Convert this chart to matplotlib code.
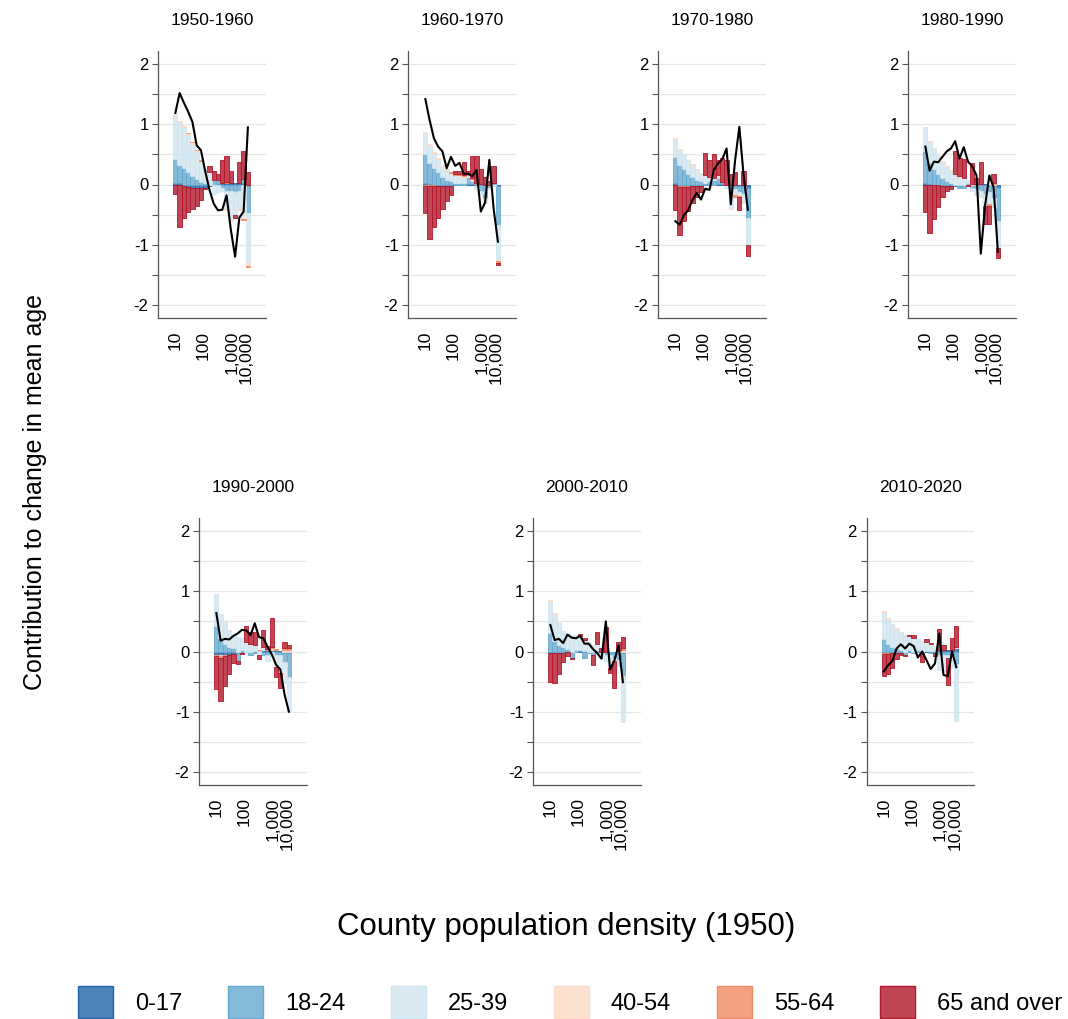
import numpy as np
import matplotlib.pyplot as plt
from matplotlib.patches import Patch
from matplotlib.colors import to_rgba

plt.rcParams['font.family'] = ['Liberation Sans', 'DejaVu Sans']

# ---------------------------------------------------------------------------
# data: contribution to change in mean age, by density bin (18 bins, low->high)
# one row per decade
# ---------------------------------------------------------------------------
periods = ['1950-1960', '1960-1970', '1970-1980', '1980-1990',
           '1990-2000', '2000-2010', '2010-2020']
age_groups = ['0-17', '18-24', '25-39', '40-54', '55-64', '65 and over']
tick_labels = ['10', '100', '1,000', '10,000']
tick_bins = [0.0, 6.6, 13.2, 16.7]   # where the density breaks fall on the bin axis

age_0_17 = [
    [0.02, 0.02, -0.02, -0.04, -0.06, -0.05, -0.06, -0.05, -0.02, 0.00, 0.01, 0.02, 0.03, 0.03, 0.03, 0.03, 0.02, -0.02],
    [0.03, 0.01, -0.01, -0.02, -0.03, -0.02, -0.02, -0.01, 0.00, 0.00, 0.01, 0.01, 0.01, 0.01, 0.00, 0.00, 0.00, -0.02],
    [0.02, -0.02, -0.03, -0.03, -0.03, -0.02, -0.02, -0.01, 0.00, 0.00, 0.01, 0.01, 0.00, -0.01, -0.02, -0.03, -0.03, -0.05],
    [0.02, 0.01, 0.00, -0.01, -0.02, -0.02, -0.03, -0.03, -0.02, -0.01, 0.00, 0.00, 0.01, 0.01, 0.01, 0.00, -0.02, -0.05],
    [-0.05, -0.06, -0.05, -0.05, -0.04, -0.03, -0.02, -0.01, 0.00, 0.01, 0.01, 0.02, 0.02, 0.03, 0.02, 0.01, -0.02, -0.02],
    [-0.02, -0.02, -0.02, -0.02, -0.01, -0.01, 0.00, 0.01, 0.01, 0.00, 0.00, 0.00, -0.01, -0.01, 0.00, -0.01, -0.02, -0.02],
    [-0.03, -0.03, -0.02, -0.02, -0.02, -0.01, -0.01, 0.00, 0.00, 0.00, 0.01, 0.01, 0.01, 0.02, 0.02, 0.02, 0.03, 0.05],
]
age_18_24 = [
    [0.40, 0.30, 0.27, 0.21, 0.14, 0.09, 0.04, 0.02, 0.00, 0.07, 0.06, -0.05, -0.10, -0.10, -0.12, -0.10, 0.07, -0.46],
    [0.47, 0.35, 0.27, 0.20, 0.13, 0.08, 0.05, 0.03, 0.02, 0.03, 0.12, 0.05, -0.02, -0.10, -0.22, -0.05, 0.03, -0.65],
    [0.43, 0.33, 0.25, 0.18, 0.12, 0.07, 0.05, 0.03, 0.05, 0.08, 0.10, 0.03, 0.00, -0.08, -0.05, -0.10, -0.12, -0.50],
    [0.53, 0.34, 0.25, 0.17, 0.10, 0.05, 0.02, 0.00, -0.03, -0.05, 0.02, -0.05, -0.08, -0.10, -0.15, -0.12, -0.20, -0.55],
    [0.42, 0.22, 0.13, 0.08, 0.05, -0.12, 0.02, 0.00, -0.05, -0.03, 0.00, -0.05, -0.05, 0.00, -0.05, -0.05, -0.15, -0.40],
    [0.30, 0.18, 0.10, 0.07, 0.04, -0.10, 0.03, 0.02, -0.10, -0.02, -0.05, 0.02, -0.02, -0.05, -0.05, -0.10, -0.12, -0.38],
    [0.20, 0.12, 0.08, 0.05, 0.03, -0.05, 0.02, -0.03, 0.02, -0.02, 0.00, -0.02, -0.03, -0.05, -0.05, -0.05, -0.08, -0.20],
]
age_25_39 = [
    [0.73, 0.72, 0.68, 0.62, 0.54, 0.47, 0.34, 0.23, 0.20, -0.15, -0.12, -0.05, -0.30, -0.48, -0.38, -0.30, -0.55, -0.83],
    [0.35, 0.29, 0.25, 0.22, 0.18, 0.16, 0.13, 0.12, 0.12, 0.10, 0.02, 0.03, -0.05, -0.05, -0.08, -0.03, -0.02, -0.58],
    [0.31, 0.25, 0.25, 0.22, 0.21, 0.18, 0.13, 0.12, 0.07, 0.02, 0.04, 0.00, -0.05, -0.30, -0.10, -0.05, -0.15, -0.45],
    [0.40, 0.35, 0.35, 0.30, 0.28, 0.25, 0.21, 0.17, 0.13, 0.10, 0.05, -0.05, -0.10, -0.10, -0.20, -0.20, -0.15, -0.45],
    [0.54, 0.41, 0.37, 0.28, 0.22, 0.24, 0.20, 0.15, 0.12, 0.10, -0.05, 0.05, -0.10, -0.08, -0.20, -0.30, -0.35, -0.58],
    [0.54, 0.45, 0.37, 0.27, 0.26, 0.28, 0.24, 0.23, 0.18, 0.15, 0.10, 0.10, -0.08, -0.10, -0.22, -0.05, -0.10, -0.78],
    [0.45, 0.42, 0.37, 0.33, 0.30, 0.28, 0.23, 0.22, 0.18, 0.18, 0.14, 0.11, 0.08, -0.25, -0.28, -0.05, -0.20, -0.95],
]
age_40_54 = [
    [0.02, 0.01, 0.02, 0.02, 0.02, 0.01, 0.01, 0.01, 0.01, 0.01, 0.00, 0.00, -0.02, -0.02, 0.00, -0.02, -0.02, -0.04],
    [0.03, 0.02, 0.02, 0.02, 0.01, 0.01, 0.01, 0.01, 0.01, 0.01, 0.01, 0.00, 0.00, 0.00, 0.00, 0.00, 0.00, -0.03],
    [0.02, 0.01, 0.01, 0.01, 0.01, 0.01, 0.01, 0.00, 0.00, 0.00, 0.00, 0.00, 0.00, -0.01, -0.01, -0.01, -0.01, -0.01],
    [0.01, 0.02, 0.01, 0.01, 0.01, 0.01, 0.01, 0.01, 0.01, 0.00, 0.01, 0.01, 0.00, 0.00, 0.00, -0.01, 0.01, 0.00],
    [-0.01, -0.02, -0.01, 0.00, 0.00, 0.00, 0.00, 0.00, 0.00, 0.00, 0.01, 0.00, 0.01, 0.02, 0.01, 0.00, 0.02, 0.02],
    [0.01, 0.01, 0.01, 0.00, 0.00, 0.00, 0.00, 0.00, 0.00, 0.00, 0.00, 0.00, 0.00, 0.00, 0.00, 0.00, 0.01, 0.03],
    [0.02, 0.01, 0.01, 0.01, 0.00, 0.00, 0.00, 0.00, 0.00, 0.00, 0.00, 0.00, 0.00, 0.00, 0.00, 0.00, 0.00, 0.02],
]
age_55_64 = [
    [0.00, 0.00, 0.00, 0.01, 0.01, 0.01, 0.01, 0.00, 0.00, 0.00, 0.00, 0.01, 0.01, 0.00, -0.01, 0.00, -0.02, -0.03],
    [-0.02, -0.03, -0.01, 0.00, 0.00, 0.00, 0.01, 0.01, 0.02, 0.01, 0.01, 0.01, 0.01, 0.00, 0.00, 0.00, 0.00, -0.02],
    [-0.01, -0.02, -0.01, -0.01, 0.00, 0.00, 0.00, 0.00, 0.00, 0.00, 0.00, 0.00, 0.00, 0.00, -0.02, -0.01, 0.00, 0.00],
    [0.00, 0.00, 0.00, 0.00, 0.00, 0.00, 0.00, 0.00, 0.00, 0.00, 0.00, 0.00, 0.00, 0.00, -0.01, -0.02, 0.02, 0.00],
    [-0.02, -0.02, -0.02, -0.01, 0.00, 0.00, 0.00, 0.00, 0.00, 0.00, 0.01, 0.00, 0.01, 0.02, 0.01, 0.00, 0.03, 0.03],
    [-0.01, -0.01, 0.00, 0.00, 0.00, 0.00, 0.00, 0.00, 0.00, 0.00, 0.00, 0.00, 0.00, 0.00, 0.00, 0.00, 0.01, 0.03],
    [-0.01, -0.01, 0.00, 0.00, 0.00, 0.00, 0.00, 0.00, 0.00, 0.00, 0.00, 0.00, 0.00, 0.00, 0.00, 0.00, 0.00, 0.01],
]
age_65_over = [
    [-0.15, -0.70, -0.53, -0.42, -0.35, -0.31, -0.20, -0.03, 0.10, 0.15, 0.10, 0.38, 0.44, 0.19, -0.05, 0.34, 0.47, 0.20],
    [-0.45, -0.88, -0.68, -0.53, -0.37, -0.26, -0.16, 0.06, 0.05, 0.22, 0.05, 0.38, 0.45, 0.25, 0.12, 0.05, 0.27, -0.04],
    [-0.42, -0.80, -0.56, -0.40, -0.27, -0.18, -0.10, 0.37, 0.28, 0.40, 0.25, 0.40, 0.40, 0.17, 0.20, -0.22, 0.22, -0.18],
    [-0.45, -0.80, -0.57, -0.36, -0.19, -0.08, -0.04, 0.38, 0.30, 0.33, -0.02, 0.35, 0.10, 0.37, -0.30, -0.30, 0.14, -0.17],
    [-0.55, -0.72, -0.50, -0.32, -0.15, -0.05, -0.02, 0.28, 0.20, 0.22, -0.08, 0.28, 0.05, 0.48, -0.17, -0.25, 0.10, 0.05],
    [-0.48, -0.50, -0.35, -0.15, -0.06, -0.01, 0.00, 0.03, 0.03, 0.00, -0.18, 0.20, 0.05, 0.40, -0.08, -0.45, 0.13, 0.18],
    [-0.37, -0.33, -0.25, -0.11, -0.04, -0.02, 0.03, 0.05, 0.00, -0.15, 0.06, 0.02, -0.05, 0.35, 0.08, -0.45, 0.20, 0.34],
]
# total change line
total_change = [
    [1.19, 1.52, 1.36, 1.21, 1.04, 0.65, 0.57, 0.22, -0.09, -0.32, -0.43, -0.42, -0.18, -0.75, -1.20, -0.55, -0.45, 0.95],
    [1.42, 1.07, 0.77, 0.63, 0.55, 0.27, 0.46, 0.31, 0.36, 0.18, 0.18, 0.14, 0.24, -0.45, -0.30, 0.41, -0.40, -0.95],
    [-0.61, -0.67, -0.51, -0.43, -0.26, -0.14, -0.25, -0.07, -0.09, 0.24, 0.35, 0.42, 0.60, -0.33, 0.40, 0.96, 0.15, -0.42],
    [0.63, 0.23, 0.38, 0.37, 0.46, 0.55, 0.60, 0.72, 0.43, 0.62, 0.38, 0.30, 0.15, -1.15, -0.35, 0.15, -0.05, -1.12],
    [0.64, 0.18, 0.21, 0.20, 0.26, 0.30, 0.36, 0.35, 0.27, 0.47, 0.24, 0.22, 0.08, -0.05, -0.22, -0.30, -0.72, -1.00],
    [0.44, 0.19, 0.21, 0.14, 0.28, 0.23, 0.22, 0.26, 0.13, 0.13, 0.04, -0.03, -0.12, 0.50, -0.30, -0.15, 0.10, -0.51],
    [-0.33, -0.23, -0.16, 0.05, 0.12, 0.05, 0.13, 0.09, -0.10, 0.00, -0.14, -0.29, -0.20, 0.30, -0.39, -0.41, 0.00, -0.26],
]

colors = ['#2166ac', '#67a9cf', '#d1e5f0', '#fddbc7', '#ef8a62', '#b2182b']
series = [age_0_17, age_18_24, age_25_39, age_40_54, age_55_64, age_65_over]

# ---------------------------------------------------------------------------
# layout (pixel boxes of the panels in a 1068 x 1019 figure)
# ---------------------------------------------------------------------------
W, H = 1068, 1019
fig = plt.figure(figsize=(W / 100, H / 100), dpi=100)

panel_left = [158.3, 408.3, 658.3, 908.3, 199.3, 533.3, 866.7]
panel_top = [51, 51, 51, 51, 518, 518, 518]
pw, ph = 107.5, 267

for k, period in enumerate(periods):
    ax = fig.add_axes([panel_left[k] / W, 1 - (panel_top[k] + ph) / H, pw / W, ph / H])
    x = np.arange(len(total_change[k]))
    pos_base = np.zeros(len(x))
    neg_base = np.zeros(len(x))
    for g, col in enumerate(colors):
        vals = np.array(series[g][k])
        fill = to_rgba(col, 0.8)
        pos = np.clip(vals, 0, None)
        neg = np.clip(vals, None, 0)
        m = pos > 0
        ax.bar(x[m], pos[m], bottom=pos_base[m], width=1, color=fill,
               edgecolor=col, linewidth=0.6, zorder=2)
        m = neg < 0
        ax.bar(x[m], neg[m], bottom=neg_base[m], width=1, color=fill,
               edgecolor=col, linewidth=0.6, zorder=2)
        pos_base += pos
        neg_base += neg
    ax.plot(x, total_change[k], color='black', lw=1.5, zorder=3)

    ax.set_xlim(-4.0, 21.2)
    ax.set_ylim(-2.22, 2.22)
    ax.set_yticks([-2, -1, 0, 1, 2])
    ax.set_yticklabels(['-2', '-1', '0', '1', '2'])
    ax.set_yticks([-1.5, -0.5, 0.5, 1.5], minor=True)
    ax.set_xticks(tick_bins)
    ax.set_xticklabels(tick_labels, rotation=90, va='top', ha='center')
    ax.tick_params(axis='x', length=0, pad=9, labelsize=12.5, labelcolor='black')
    ax.tick_params(axis='y', which='both', length=4, width=0.8, color='#555555',
                   pad=3, labelsize=12, labelcolor='black')
    ax.grid(axis='y', which='both', color='#e6e6e6', lw=0.9, zorder=0)
    ax.set_axisbelow(True)
    for s in ['top', 'right']:
        ax.spines[s].set_visible(False)
    for s in ['left', 'bottom']:
        ax.spines[s].set_color('#555555')
        ax.spines[s].set_linewidth(0.9)
    ax.text(0.5, 1.116, period, transform=ax.transAxes, ha='center', va='center',
            fontsize=12.5)

fig.text(35 / W, 1 - 492 / H, 'Contribution to change in mean age', rotation=90,
         ha='center', va='center', fontsize=18)
fig.text(566 / W, 1 - 927 / H, 'County population density (1950)',
         ha='center', va='center', fontsize=22.5)

handles = [Patch(facecolor=to_rgba(c, 0.8), edgecolor=c, linewidth=1) for c in colors]
fig.legend(handles, age_groups, loc='lower center', bbox_to_anchor=(0.534, 0.0),
           ncol=6, frameon=False, fontsize=17, handlelength=1.45, handleheight=1.7,
           handletextpad=0.95, columnspacing=1.95, borderaxespad=0, borderpad=0.05)

fig.savefig('out.png', dpi=100)
